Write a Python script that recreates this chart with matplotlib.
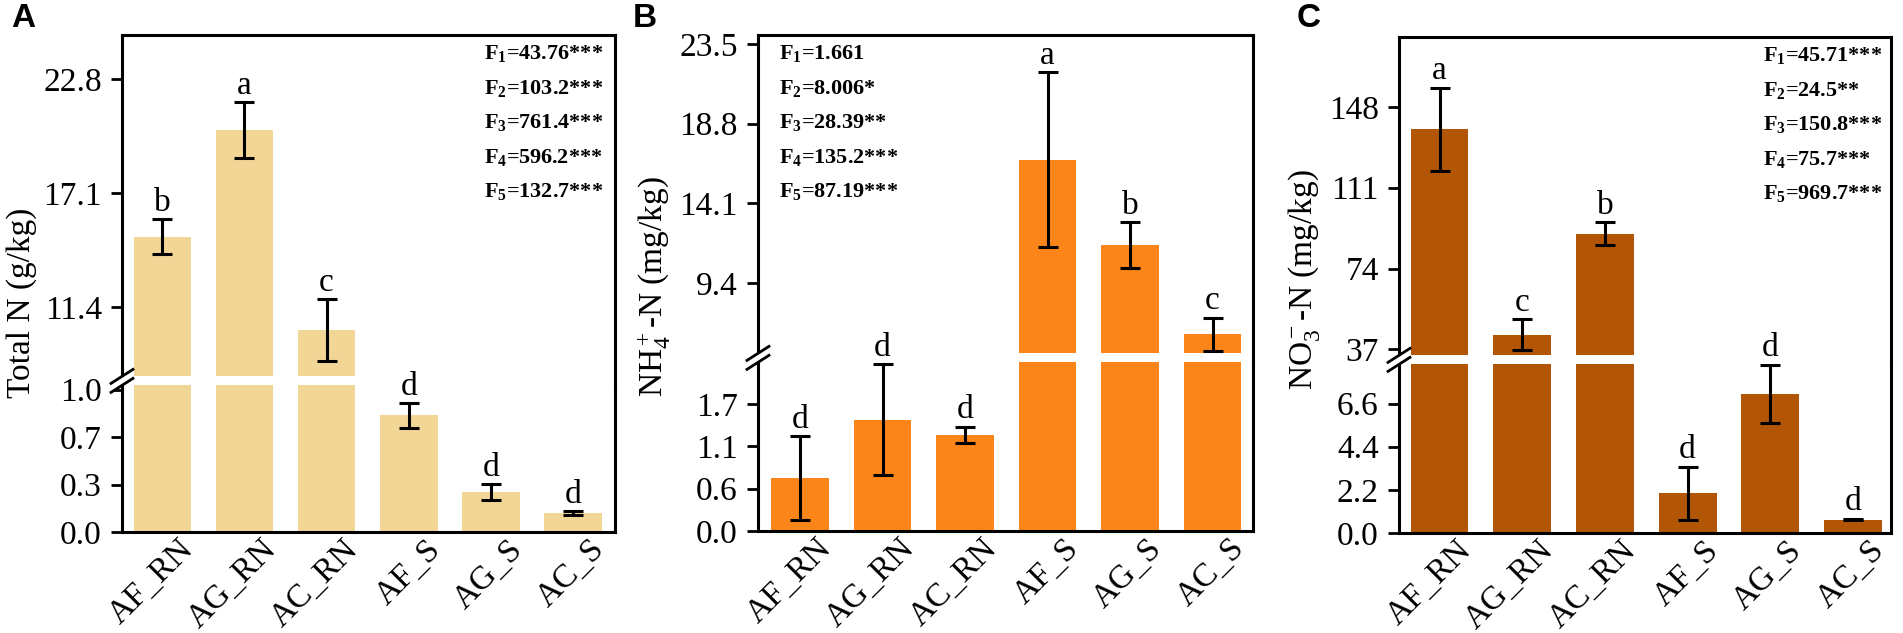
import numpy as np
import matplotlib
matplotlib.use("Agg")
import matplotlib.pyplot as plt
from matplotlib.patches import Rectangle, Polygon
from matplotlib.lines import Line2D
from matplotlib.transforms import ScaledTranslation

plt.rcParams['font.family'] = ['Liberation Serif', 'DejaVu Serif']
plt.rcParams['mathtext.fontset'] = 'custom'
plt.rcParams['mathtext.rm'] = 'Liberation Serif'
plt.rcParams['mathtext.it'] = 'Liberation Serif:italic'
plt.rcParams['mathtext.bf'] = 'Liberation Serif:bold'

W, H = 1903, 633

# данные
groups = ['AF_RN', 'AG_RN', 'AC_RN', 'AF_S', 'AG_S', 'AC_S']

tn_mean = [14.93, 20.25, 10.26, 0.82, 0.281, 0.133]
tn_err = [0.88, 1.40, 1.53, 0.087, 0.055, 0.012]
tn_letters = ['b', 'a', 'c', 'd', 'd', 'd']
tn_F = ['43.76***', '103.2***', '761.4***', '596.2***', '132.7***']

nh_mean = [0.707, 1.489, 1.284, 16.66, 11.64, 6.35]
nh_err = [0.56, 0.74, 0.11, 5.16, 1.35, 0.98]
nh_letters = ['d', 'd', 'd', 'a', 'b', 'c']
nh_F = ['1.661', '8.006*', '28.39**', '135.2***', '87.19***']

no_mean = [137.8, 43.7, 89.9, 2.02, 7.10, 0.68]
no_err = [19.0, 7.0, 5.2, 1.36, 1.49, 0.04]
no_letters = ['a', 'c', 'b', 'd', 'd', 'd']
no_F = ['45.71***', '24.5**', '150.8***', '75.7***', '969.7***']

tn_lo_ticks = [0, 1 / 3, 2 / 3, 1.0]
tn_lo_labels = ['0.0', '0.3', '0.7', '1.0']
tn_hi_ticks = [11.4, 17.1, 22.8]
nh_lo_ticks = [0, 0.567, 1.133, 1.7]
nh_lo_labels = ['0.0', '0.6', '1.1', '1.7']
nh_hi_ticks = [9.4, 14.1, 18.8, 23.5]
no_lo_ticks = [0, 2.2, 4.4, 6.6]
no_lo_labels = ['0.0', '2.2', '4.4', '6.6']
no_hi_ticks = [37, 74, 111, 148]

fig = plt.figure(figsize=(W / 100, H / 100), dpi=100)

LW = 2.2


def style_axis(ax):
    for s in ax.spines.values():
        s.set_linewidth(LW)
    ax.tick_params(axis='y', direction='out', length=8, width=2, labelsize=24, pad=6.5)
    ax.tick_params(axis='x', length=0, labelsize=24)


def draw_panel(box, frac, means, errs, letters, ftexts, color,
               lo_lim, hi_lim, lo_ticks, lo_labels, hi_ticks, xlim,
               ylabel, ylab_pos, tag, tag_x, fx):
    l, r, t, b = box
    h = b - t
    lo_h = h * frac
    gap = 9
    ax_lo = fig.add_axes([l / W, (H - b) / H, (r - l) / W, lo_h / H])
    ax_hi = fig.add_axes([l / W, (H - b + lo_h) / H, (r - l) / W, (h - lo_h) / H])
    # нижняя ось поверх верхней, чтобы буквы не перекрывались
    ax_lo.set_zorder(2)
    ax_lo.patch.set_visible(False)
    x = np.arange(len(groups))
    for ax in (ax_lo, ax_hi):
        ax.bar(x, means, width=0.70, color=color, zorder=1)
        ax.errorbar(x, means, yerr=errs, fmt='none', ecolor='black',
                    elinewidth=2.2, capsize=7.5, capthick=2.2, zorder=3)
        ax.set_xlim(*xlim)
        style_axis(ax)
    ax_lo.set_ylim(*lo_lim)
    ax_hi.set_ylim(*hi_lim)
    ax_lo.spines['top'].set_visible(False)
    ax_hi.spines['bottom'].set_visible(False)
    ax_lo.set_yticks(lo_ticks)
    ax_lo.set_yticklabels(lo_labels)
    ax_hi.set_yticks(hi_ticks)
    ax_hi.set_yticklabels([('%g' % v) if v >= 30 else ('%.1f' % v) for v in hi_ticks])
    ax_hi.set_xticks([])
    ax_lo.set_xticks(x)
    ax_lo.set_xticklabels(groups, rotation=45, ha='right', va='top',
                          rotation_mode='anchor')
    off = ScaledTranslation(0.16, 0.03, fig.dpi_scale_trans)
    for lab in ax_lo.get_xticklabels():
        lab.set_transform(lab.get_transform() + off)

    # белый зазор на месте разрыва оси
    ax_hi.add_patch(Rectangle((0, 0), 1, gap / (h - lo_h), transform=ax_hi.transAxes,
                              facecolor='white', edgecolor='none', zorder=1.5))

    # буквы над столбцами
    for i, (m, e, let) in enumerate(zip(means, errs, letters)):
        ax = ax_lo if m + e <= lo_lim[1] else ax_hi
        ax.annotate(let, (i, m + e), xytext=(0, 1), textcoords='offset points',
                    ha='center', va='bottom', fontsize=24, annotation_clip=False,
                    zorder=5)

    # знак разрыва //
    yc = H - (b - lo_h) + gap / 2
    dx, dy, sep = 11, 7, 4.5
    poly = Polygon([((l - dx) / W, (yc - sep - dy) / H), ((l + dx) / W, (yc - sep + dy) / H),
                    ((l + dx) / W, (yc + sep + dy) / H), ((l - dx) / W, (yc + sep - dy) / H)],
                   closed=True, transform=fig.transFigure, facecolor='white',
                   edgecolor='none', zorder=5)
    fig.add_artist(poly)
    for s in (-sep, sep):
        fig.add_artist(Line2D([(l - dx) / W, (l + dx) / W], [(yc + s - dy) / H, (yc + s + dy) / H],
                              transform=fig.transFigure, color='black', lw=2, zorder=6))

    # F-статистики
    for k, ft in enumerate(ftexts):
        yy = t + 0.038 * h + k * 34.5
        fig.text((l + fx * (r - l)) / W, 1 - yy / H,
                 r'F$_{\mathbf{%d}}$=%s' % (k + 1, ft),
                 fontsize=16, fontweight='bold', ha='left', va='center')

    fig.text(ylab_pos[0] / W, 1 - ylab_pos[1] / H, ylabel, rotation=90,
             ha='center', va='center', fontsize=24)
    fig.text(tag_x / W, 1 - 3 / H, tag, fontsize=24, fontweight='bold',
             family='Liberation Sans', ha='left', va='top')


draw_panel((122, 615, 35, 532), 0.295, tn_mean, tn_err, tn_letters, tn_F, '#F2D696',
           (0, 1.03), (7.5, 25.0), tn_lo_ticks, tn_lo_labels, tn_hi_ticks, (-0.49, 5.51),
           'Total N (g/kg)', (22, 303), 'A', 11, 0.734)

draw_panel((758, 1253, 35, 531), 0.34, nh_mean, nh_err, nh_letters, nh_F, '#FB8519',
           (0, 2.256), (4.7, 24.03), nh_lo_ticks, nh_lo_labels, nh_hi_ticks, (-0.51, 5.49),
           r'NH$_4^+$-N (mg/kg)', (654, 287), 'B', 633, 0.042)

draw_panel((1399, 1891, 37, 533), 0.34, no_mean, no_err, no_letters, no_F, '#B25605',
           (0, 8.6), (30.15, 180.0), no_lo_ticks, no_lo_labels, no_hi_ticks, (-0.49, 5.46),
           r'NO$_3^-$-N (mg/kg)', (1304, 280), 'C', 1297, 0.74)

fig.savefig('out.png', dpi=100)
